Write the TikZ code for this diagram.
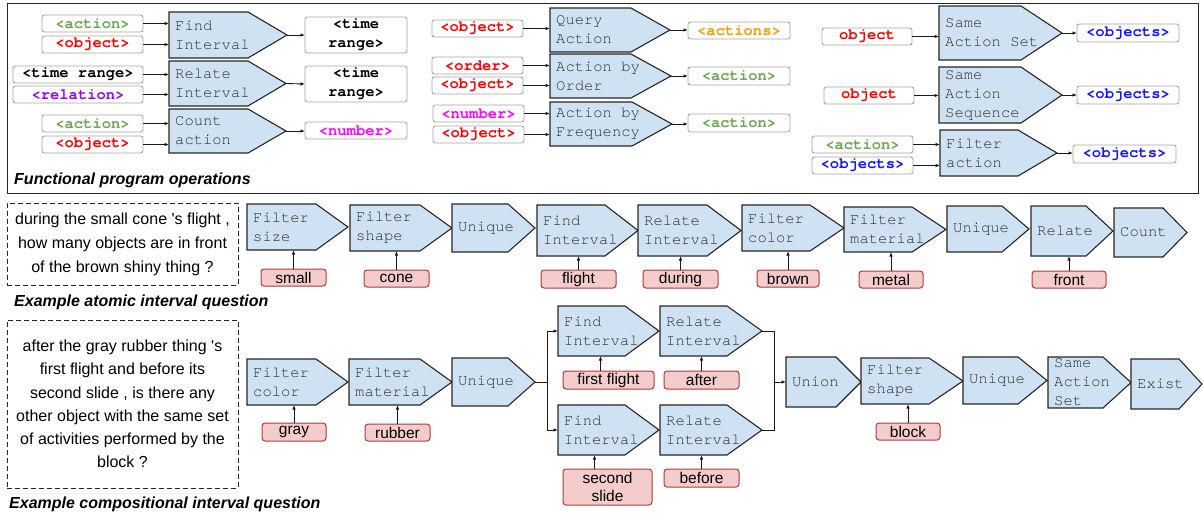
\documentclass[tikz,border=0pt]{standalone}
\usepackage{fontspec}
\setmainfont{Liberation Sans}[Ligatures=TeXOff]
\setmonofont{TeX Gyre Cursor}
\usetikzlibrary{arrows.meta,calc}
\definecolor{opfill}{HTML}{CFE2F3}
\definecolor{opline}{HTML}{262626}
\definecolor{optxt}{HTML}{2E2E2E}
\definecolor{valfill}{HTML}{F4CCCC}
\definecolor{valline}{HTML}{B03A3A}
\definecolor{lblline}{HTML}{A6A6A6}
\definecolor{cgreen}{HTML}{6AA84F}
\definecolor{cred}{HTML}{FF0000}
\definecolor{cpurple}{HTML}{9900FF}
\definecolor{cmagenta}{HTML}{FF00FF}
\definecolor{corange}{HTML}{FF9900}
\definecolor{cblue}{HTML}{1414FF}
\tikzset{
  opbox/.style={inner sep=0pt, outer sep=0pt, draw=none},
  opshape/.style={fill=opfill, draw=opline, line width=1.1pt, line join=miter},
  optext/.style={inner sep=0pt, align=left, text=optxt, font=\ttfamily\fontsize{15.5}{19}\selectfont},
  lblbox/.style={draw=lblline, fill=white, rounded corners=2.5pt, line width=0.9pt, inner sep=0pt, outer sep=0pt, align=center, font=\ttfamily\bfseries\fontsize{15.5}{19}\selectfont},
  valbox/.style={draw=valline, fill=valfill, rounded corners=3pt, line width=1pt, inner sep=0pt, outer sep=0pt, align=center, font=\fontsize{15.5}{18}\selectfont},
  qbox/.style={draw=black!85, dash pattern=on 5pt off 3pt, line width=1pt, inner sep=0pt, align=center},
  arr/.style={-{Latex[length=4.5pt,width=3.5pt]}, line width=0.9pt, draw=black!90},
  conn/.style={line width=0.9pt, draw=black!90},
  caption/.style={inner sep=0pt, anchor=base west, font=\bfseries\itshape\fontsize{16}{19}\selectfont}
}
% name, x1, y1, body-right x, tip x, y2, text
\newcommand\op[7]{%
  \node[opbox, minimum width={(#5-#2)*1pt}, minimum height={(#6-#3)*1pt}, anchor=north west] (#1) at (#2,#3) {};
  \draw[opshape] (#2,#3) -- (#4,#3) -- (#5,{(#3+#6)/2}) -- (#4,#6) -- (#2,#6) -- cycle;
  \node[optext, anchor=west] (#1-t) at ([xshift=6pt]#1.west) {#7};
}
% name, x1, y1, x2, y2, colour, text
\newcommand\lbl[7]{%
  \node[lblbox, text=#6, minimum width={(#4-#2)*1pt}, minimum height={(#5-#3)*1pt}] (#1) at ({(#2+#4)/2},{(#3+#5)/2}) {#7};
}
% name, x1, y1, x2, y2, text
\newcommand\val[6]{%
  \node[valbox, minimum width={(#4-#2)*1pt}, minimum height={(#5-#3)*1pt}] (#1) at ({(#2+#4)/2},{(#3+#5)/2}) {#6};
}
\begin{document}
\begin{tikzpicture}[x=1pt,y=-1pt]
\fill[white] (0,0) rectangle (1203,515);
\useasboundingbox (0,0) rectangle (1203,515);

% ---------------- top panel ----------------
\draw[line width=1pt, draw=black!85] (7,3) rectangle (1198,193);
\node[caption] (cap1) at (14,184) {Functional program operations};

% column 1
\op{fi}{169}{12}{248}{287}{58}{Find\\Interval}
\lbl{a1}{42}{15}{143}{32}{cgreen}{<action>}
\lbl{o1}{42}{36}{143}{53}{cred}{<object>}
\lbl{tr1}{305}{17}{407}{53}{black}{<time\\range>}
\draw[arr] (a1.east) -- (a1.east -| fi.west);
\draw[arr] (o1.east) -- (o1.east -| fi.west);
\draw[arr] (fi.east) -- (tr1.west);

\op{ri}{169}{61}{248}{286}{106}{Relate\\Interval}
\lbl{tr2}{13}{66}{143}{83}{black}{<time range>}
\lbl{rel}{13}{86}{143}{103}{cpurple}{<relation>}
\lbl{tr3}{305}{66}{407}{102}{black}{<time\\range>}
\draw[arr] (tr2.east) -- (tr2.east -| ri.west);
\draw[arr] (rel.east) -- (rel.east -| ri.west);
\draw[arr] (ri.east) -- (tr3.west);

\op{ca}{169}{109}{248}{286}{153}{Count\\action}
\lbl{a2}{42}{115}{143}{132}{cgreen}{<action>}
\lbl{o2}{42}{136}{143}{153}{cred}{<object>}
\lbl{num1}{305}{122}{407}{139}{cmagenta}{<number>}
\draw[arr] (a2.east) -- (a2.east -| ca.west);
\draw[arr] (o2.east) -- (o2.east -| ca.west);
\draw[arr] (ca.east) -- (ca.east -| num1.west);

% column 2
\op{qa}{550}{8}{631}{670}{52}{Query\\Action}
\lbl{o3}{432}{20}{523}{37}{cred}{<object>}
\lbl{acts}{688}{22}{790}{39}{corange}{<actions>}
\draw[arr] (o3.east) -- (o3.east -| qa.west);
\draw[arr] (qa.east) -- (qa.east -| acts.west);

\op{ao}{550}{54}{631}{671}{98}{Action by\\Order}
\lbl{ord}{432}{57}{523}{74}{cred}{<order>}
\lbl{o4}{432}{77}{523}{94}{cred}{<object>}
\lbl{act1}{688}{67}{790}{85}{cgreen}{<action>}
\draw[arr] (ord.east) -- (ord.east -| ao.west);
\draw[arr] (o4.east) -- (o4.east -| ao.west);
\draw[arr] (ao.east) -- (ao.east -| act1.west);

\op{af}{550}{102}{632}{672}{146}{Action by\\Frequency}
\lbl{num2}{433}{105}{524}{122}{cmagenta}{<number>}
\lbl{o5}{433}{126}{524}{143}{cred}{<object>}
\lbl{act2}{688}{114}{790}{132}{cgreen}{<action>}
\draw[arr] (num2.east) -- (num2.east -| af.west);
\draw[arr] (o5.east) -- (o5.east -| af.west);
\draw[arr] (af.east) -- (af.east -| act2.west);

% column 3
\op{sas}{939}{6}{1021}{1062}{60}{Same\\Action Set}
\lbl{ob1}{822}{28}{912}{45}{cred}{object}
\lbl{objs1}{1077}{24}{1179}{42}{cblue}{<objects>}
\draw[arr] (ob1.east) -- (ob1.east -| sas.west);
\draw[arr] (sas.east) -- (sas.east -| objs1.west);

\op{saq}{939}{67}{1021}{1062}{123}{Same\\Action\\Sequence}
\lbl{ob2}{824}{87}{914}{104}{cred}{object}
\lbl{objs2}{1077}{86}{1179}{104}{cblue}{<objects>}
\draw[arr] (ob2.east) -- (ob2.east -| saq.west);
\draw[arr] (saq.east) -- (saq.east -| objs2.west);

\op{fa}{940}{130}{1018}{1057}{176}{Filter\\action}
\lbl{act3}{812}{136}{913}{153}{cgreen}{<action>}
\lbl{objs3}{812}{157}{913}{174}{cblue}{<objects>}
\lbl{objs4}{1073}{145}{1176}{163}{cblue}{<objects>}
\draw[arr] (act3.east) -- (act3.east -| fa.west);
\draw[arr] (objs3.east) -- (objs3.east -| fa.west);
\draw[arr] (fa.east) -- (fa.east -| objs4.west);

% ---------------- atomic example ----------------
\node[qbox, minimum width=231pt, minimum height=82pt, font=\fontsize{16}{24}\selectfont] (q1) at (122.5,244)
  {during the small cone 's flight ,\\how many objects are in front\\of the brown shiny thing ?};
\node[caption] (cap2) at (14,306) {Example atomic interval question};

\op{f1}{247}{204}{316}{348}{250}{Filter\\size}
\op{f2}{350}{205}{420}{452}{251}{Filter\\shape}
\op{u1}{452}{204}{508}{535}{252}{Unique}
\op{fi1}{537}{205}{605}{638}{256}{Find\\Interval}
\op{ri1}{638}{205}{707}{741}{256}{Relate\\Interval}
\op{fc1}{742}{205}{810}{844}{251}{Filter\\color}
\op{fm1}{844}{207}{912}{946}{252}{Filter\\material}
\op{u2}{947}{206}{1002}{1029}{252}{Unique}
\op{r1}{1031}{206}{1086}{1113}{256}{Relate}
\op{c1}{1114}{208}{1163}{1187}{257}{Count}

\val{v1}{261}{269}{326}{286}{small}
\val{v2}{364}{270}{429}{287}{cone}
\val{v3}{541}{270}{616}{288}{flight}
\val{v4}{643}{270}{718}{288}{during}
\val{v5}{757}{270}{819}{287}{brown}
\val{v6}{859}{271}{923}{288}{metal}
\val{v7}{1032}{271}{1106}{288}{front}
\draw[arr] (v1.north) -- (v1.north |- f1.south);
\draw[arr] (v2.north) -- (v2.north |- f2.south);
\draw[arr] (v3.north) -- (v3.north |- fi1.south);
\draw[arr] (v4.north) -- (v4.north |- ri1.south);
\draw[arr] (v5.north) -- (v5.north |- fc1.south);
\draw[arr] (v6.north) -- (v6.north |- fm1.south);
\draw[arr] (v7.north) -- (v7.north |- r1.south);

% ---------------- compositional example ----------------
\node[qbox, minimum width=231pt, minimum height=168pt, font=\fontsize{16}{23.2}\selectfont] (q2) at (122.5,404)
  {after the gray rubber thing 's\\first flight and before its\\second slide , is there any\\other object with the same set\\of activities performed by the\\block ?};
\node[caption] (cap3) at (9,508) {Example compositional interval question};

\op{fc2}{247}{359}{316}{348}{405}{Filter\\color}
\op{fm2}{349}{359}{420}{452}{405}{Filter\\material}
\op{u3}{452}{358}{508}{535}{406}{Unique}
\op{fi2}{558}{306}{625}{659}{356}{Find\\Interval}
\op{ri2}{660}{306}{727}{762}{356}{Relate\\Interval}
\op{fi3}{558}{405}{625}{659}{455}{Find\\Interval}
\op{ri3}{660}{405}{727}{762}{455}{Relate\\Interval}
\op{un}{786}{357}{836}{861}{407}{Union}
\op{fs2}{861}{358}{929}{963}{404}{Filter\\shape}
\op{u4}{963}{357}{1018}{1047}{404}{Unique}
\op{sas2}{1048}{357}{1103}{1131}{408}{Same\\Action\\Set}
\op{ex}{1131}{359}{1179}{1202}{409}{Exist}

\val{g1}{262}{423}{326}{441}{gray}
\val{g2}{365}{424}{430}{441}{rubber}
\val{g3}{563}{371}{654}{389}{first flight}
\val{g4}{664}{371}{739}{389}{after}
\val{g5}{563}{469}{652}{505}{second\\slide}
\val{g6}{664}{469}{739}{487}{before}
\val{g7}{876}{423}{940}{440}{block}
\draw[arr] (g1.north) -- (g1.north |- fc2.south);
\draw[arr] (g2.north) -- (g2.north |- fm2.south);
\draw[arr] ([xshift=-8pt]g3.north) -- ([xshift=-8pt]g3.north |- fi2.south);
\draw[arr] (g4.north) -- (g4.north |- ri2.south);
\draw[arr] ([xshift=-13pt]g5.north) -- ([xshift=-13pt]g5.north |- fi3.south);
\draw[arr] (g6.north) -- (g6.north |- ri3.south);
\draw[arr] (g7.north) -- (g7.north |- fs2.south);

\coordinate (br) at (547,382);
\coordinate (mg) at (774,382);
\draw[conn] (u3.east) -- (br);
\draw[arr] (br) |- (fi2.west);
\draw[arr] (br) |- (fi3.west);
\draw[conn] (ri2.east) -| (mg);
\draw[conn] (ri3.east) -| (mg);
\draw[arr] (mg) -- (un.west);
\end{tikzpicture}
\end{document}
